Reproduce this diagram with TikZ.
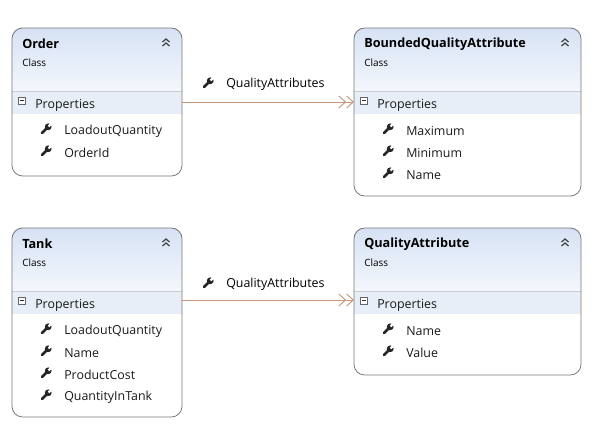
\documentclass[tikz,border=0pt]{standalone}
\usepackage{fontspec}
\setmainfont{Open Sans}
\usetikzlibrary{arrows.meta}
\definecolor{hdrtop}{RGB}{214,226,244}
\definecolor{hdrbot}{RGB}{244,247,252}
\definecolor{band}{RGB}{232,238,248}
\definecolor{bord}{RGB}{120,120,120}
\definecolor{conn}{RGB}{200,150,120}
\tikzset{
 box/.style={draw=bord,line width=0.6pt},
 ttl/.style={anchor=west,font=\fontsize{9.5}{11}\selectfont\bfseries,inner sep=0},
 sub/.style={anchor=west,font=\fontsize{7.5}{9}\selectfont,inner sep=0},
 itm/.style={anchor=west,font=\fontsize{9.3}{11}\selectfont,inner sep=0,text=black!90},
 lbl/.style={anchor=west,font=\fontsize{9.3}{11}\selectfont,inner sep=0},
 conn/.style={draw=conn,line width=0.7pt,-{Straight Barb[length=5pt,width=9pt,line width=0.7pt] Straight Barb[length=5pt,width=9pt,line width=0.7pt]}}
}
\newcommand{\wrench}[1]{%
 \begin{scope}[shift={#1}]
  \draw[black!85,line width=2pt,line cap=round] (1.5,-1.5) -- (-4,4);
  \fill[black!85] (2.2,-2.2) circle (3.4);
  \draw[white,line width=1.8pt] (2.6,-2.6) -- (6.5,-6.5);
 \end{scope}}
\newcommand{\classbox}[7]{% name, x1, y1, x2, y2, title, items
 \begin{scope}
 \clip[rounded corners=8pt] (#2,#3) rectangle (#4,#5);
 \fill[top color=hdrtop,bottom color=hdrbot] (#2,#3) rectangle (#4,91+#3-28);
 \fill[band] (#2,91+#3-28) rectangle (#4,114+#3-28);
 \end{scope}
 \draw[white!80!black,line width=0.4pt] (#2,91+#3-28) -- (#4,91+#3-28);
 \draw[box,rounded corners=8pt] (#2,#3) rectangle (#4,#5);
 \node[ttl] (#1t) at (#2+10,#3+16) {#6};
 \node[sub] (#1c) at (#2+10,#3+35) {Class};
 \begin{scope}[shift={(#4-16,#3+13)}]
  \draw[black!75,line width=0.9pt] (-3.5,1) -- (0,-2) -- (3.5,1);
  \draw[black!75,line width=0.9pt] (-3.5,5) -- (0,2) -- (3.5,5);
 \end{scope}
 \draw[black!60,fill=white,line width=0.4pt] (#2+6,#3+69) rectangle (#2+13,#3+76);
 \draw[black!80,line width=0.6pt] (#2+7.5,#3+72.5) -- (#2+11.5,#3+72.5);
 \node[itm] (#1p) at (#2+23,#3+77) {Properties};
 \foreach \t [count=\i] in {#7} {
   \wrench{(#2+34,#3+101+\i*22-22)}
   \node[itm] at (#2+52,#3+103+\i*22-22) {\t};
 }
}
\begin{document}
\begin{tikzpicture}[x=0.75pt,y=-0.75pt]
\useasboundingbox (0,0) rectangle (600,436);
\classbox{order}{12}{28}{182}{176}{Order}{LoadoutQuantity,OrderId}
\classbox{bqa}{354}{28}{581}{196}{BoundedQualityAttribute}{Maximum,Minimum,Name}
\classbox{tank}{12}{228}{182}{417}{Tank}{LoadoutQuantity,Name,ProductCost,QuantityInTank}
\classbox{qa}{354}{228}{581}{375}{QualityAttribute}{Name,Value}
\coordinate (a1) at (182,102); \coordinate (b1) at (354,102);
\coordinate (a2) at (182,300); \coordinate (b2) at (354,300);
\draw[conn] (a1) -- (b1);
\draw[conn] (a2) -- (b2);
\wrench{(208,83)}
\node[lbl] (l1) at (226,84) {QualityAttributes};
\wrench{(208,283)}
\node[lbl] (l2) at (226,284) {QualityAttributes};
\end{tikzpicture}
\end{document}
